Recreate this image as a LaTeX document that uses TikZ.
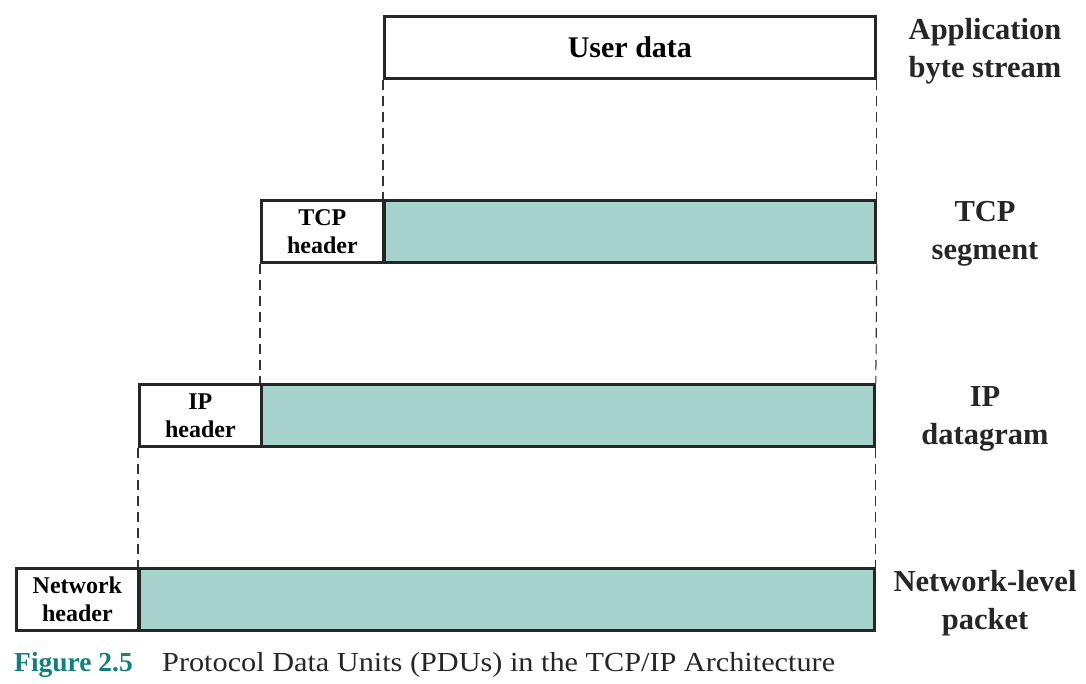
\documentclass[tikz,border=0pt]{standalone}
\usepackage{fontspec}
\setmainfont{Liberation Serif}
\newfontfamily\capfont[FakeStretch=1.1]{Liberation Serif}
\definecolor{pdufill}{RGB}{165,211,204}
\definecolor{figteal}{RGB}{18,128,126}
\begin{document}
\begin{tikzpicture}[x=1pt,y=-1pt,
  box/.style={draw=black!85, line width=2.8pt, inner sep=0pt, anchor=north west, minimum height=62pt},
  hdr/.style={box, fill=white, minimum width=122pt, align=center, font=\bfseries\fontsize{24}{28}\selectfont},
  pdu/.style={box, fill=pdufill},
  lbl/.style={align=center, font=\bfseries\fontsize{30.5}{37.5}\selectfont, text=black!85},
  dsh/.style={draw=black!80, line width=1.1pt, dash pattern=on 10pt off 6pt}]
\useasboundingbox (0,0) rectangle (1086,684);
% Application
\node[box, fill=white, minimum width=491pt, font=\bfseries\fontsize{30}{35}\selectfont] (user) at (383,15) {User data};
\node[lbl] (lapp) at (985,51) {Application\\byte stream};
% TCP
\node[hdr] (tcph) at (260,199) {TCP\\header};
\node[pdu, minimum width=491pt] (tcpd) at (383,199) {};
\node[lbl] (ltcp) at (985,234) {TCP\\segment};
% IP
\node[hdr] (iph) at (138,383) {IP\\header};
\node[pdu, minimum width=613pt] (ipd) at (260,383) {};
\node[lbl] (lip) at (985,419) {IP\\datagram};
% Network
\node[hdr] (neth) at (15,567) {Network\\header};
\node[pdu, minimum width=735pt] (netd) at (138,567) {};
\node[lbl] (lnet) at (985,603) {Network-level\\packet};
% dashed connectors
\draw[dsh] (user.south west) -- (tcpd.north west);
\draw[dsh] (user.south east) -- (tcpd.north east);
\draw[dsh] (tcph.south west) -- (ipd.north west);
\draw[dsh] (tcpd.south east) -- (ipd.north east);
\draw[dsh] (iph.south west) -- (netd.north west);
\draw[dsh] (ipd.south east) -- (netd.north east);
% caption
\node[anchor=base west, inner sep=0pt, text=figteal, font=\bfseries\fontsize{27.5}{30}\selectfont] (fig) at (14,671) {Figure 2.5};
\node[anchor=base west, inner sep=0pt, text=black!85, font=\capfont\fontsize{27.5}{30}\selectfont] (cap) at (162,671) {Protocol Data Units (PDUs) in the TCP/IP Architecture};
\end{tikzpicture}
\end{document}
